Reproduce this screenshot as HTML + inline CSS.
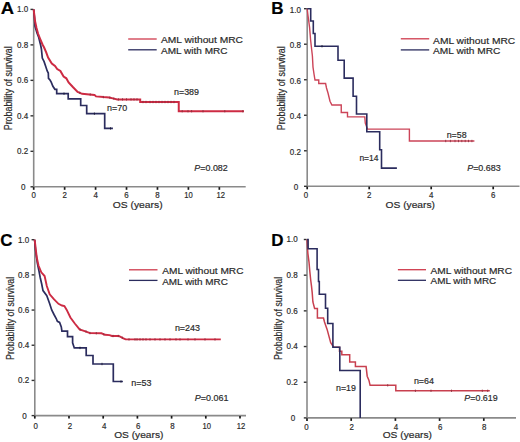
<!DOCTYPE html><html><head><meta charset="utf-8"><style>html,body{margin:0;padding:0;background:#fff;}svg{display:block;font-family:"Liberation Sans", sans-serif;}</style></head><body>
<svg width="520" height="442" viewBox="0 0 520 442">
<rect width="520" height="442" fill="#fff"/>
<path d="M33.70,9.40V186.80H245.70" fill="none" stroke="#8a8a8a" stroke-width="1.6"/>
<path d="M30.50,186.80H33.30" stroke="#333333" stroke-width="1.4"/>
<text x="21.05" y="189.70" font-size="8.6" font-weight="normal" text-anchor="start" fill="#2a2a2a" stroke="#2a2a2a" stroke-width="0.18" textLength="4.50" lengthAdjust="spacingAndGlyphs">0</text>
<path d="M30.50,151.32H33.30" stroke="#333333" stroke-width="1.4"/>
<text x="17.00" y="154.22" font-size="8.6" font-weight="normal" text-anchor="start" fill="#2a2a2a" stroke="#2a2a2a" stroke-width="0.18" textLength="11.20" lengthAdjust="spacingAndGlyphs">0.2</text>
<path d="M30.50,115.84H33.30" stroke="#333333" stroke-width="1.4"/>
<text x="17.00" y="118.74" font-size="8.6" font-weight="normal" text-anchor="start" fill="#2a2a2a" stroke="#2a2a2a" stroke-width="0.18" textLength="11.20" lengthAdjust="spacingAndGlyphs">0.4</text>
<path d="M30.50,80.36H33.30" stroke="#333333" stroke-width="1.4"/>
<text x="17.00" y="83.26" font-size="8.6" font-weight="normal" text-anchor="start" fill="#2a2a2a" stroke="#2a2a2a" stroke-width="0.18" textLength="11.20" lengthAdjust="spacingAndGlyphs">0.6</text>
<path d="M30.50,44.88H33.30" stroke="#333333" stroke-width="1.4"/>
<text x="17.00" y="47.78" font-size="8.6" font-weight="normal" text-anchor="start" fill="#2a2a2a" stroke="#2a2a2a" stroke-width="0.18" textLength="11.20" lengthAdjust="spacingAndGlyphs">0.8</text>
<path d="M30.50,9.40H33.30" stroke="#333333" stroke-width="1.4"/>
<text x="17.00" y="12.30" font-size="8.6" font-weight="normal" text-anchor="start" fill="#2a2a2a" stroke="#2a2a2a" stroke-width="0.18" textLength="11.20" lengthAdjust="spacingAndGlyphs">1.0</text>
<path d="M33.70,187.10V189.80" stroke="#1a1a1a" stroke-width="1.7"/>
<text x="31.50" y="197.50" font-size="8.6" font-weight="normal" text-anchor="start" fill="#2a2a2a" stroke="#2a2a2a" stroke-width="0.18" textLength="4.40" lengthAdjust="spacingAndGlyphs">0</text>
<path d="M64.64,187.10V189.80" stroke="#1a1a1a" stroke-width="1.7"/>
<text x="62.44" y="197.50" font-size="8.6" font-weight="normal" text-anchor="start" fill="#2a2a2a" stroke="#2a2a2a" stroke-width="0.18" textLength="4.40" lengthAdjust="spacingAndGlyphs">2</text>
<path d="M95.58,187.10V189.80" stroke="#1a1a1a" stroke-width="1.7"/>
<text x="93.38" y="197.50" font-size="8.6" font-weight="normal" text-anchor="start" fill="#2a2a2a" stroke="#2a2a2a" stroke-width="0.18" textLength="4.40" lengthAdjust="spacingAndGlyphs">4</text>
<path d="M126.52,187.10V189.80" stroke="#1a1a1a" stroke-width="1.7"/>
<text x="124.32" y="197.50" font-size="8.6" font-weight="normal" text-anchor="start" fill="#2a2a2a" stroke="#2a2a2a" stroke-width="0.18" textLength="4.40" lengthAdjust="spacingAndGlyphs">6</text>
<path d="M157.46,187.10V189.80" stroke="#1a1a1a" stroke-width="1.7"/>
<text x="155.26" y="197.50" font-size="8.6" font-weight="normal" text-anchor="start" fill="#2a2a2a" stroke="#2a2a2a" stroke-width="0.18" textLength="4.40" lengthAdjust="spacingAndGlyphs">8</text>
<path d="M188.40,187.10V189.80" stroke="#1a1a1a" stroke-width="1.7"/>
<text x="184.15" y="197.50" font-size="8.6" font-weight="normal" text-anchor="start" fill="#2a2a2a" stroke="#2a2a2a" stroke-width="0.18" textLength="8.50" lengthAdjust="spacingAndGlyphs">10</text>
<path d="M219.34,187.10V189.80" stroke="#1a1a1a" stroke-width="1.7"/>
<text x="216.49" y="197.50" font-size="8.6" font-weight="normal" text-anchor="start" fill="#2a2a2a" stroke="#2a2a2a" stroke-width="0.18" textLength="8.50" lengthAdjust="spacingAndGlyphs">12</text>
<text x="0.80" y="13.70" font-size="17" font-weight="bold" text-anchor="start" fill="#000" stroke="#000" stroke-width="0.18" textLength="13.30" lengthAdjust="spacingAndGlyphs">A</text>
<text transform="translate(12.20,130.30) rotate(-90)" font-size="10.3" fill="#2a2a2a" stroke="#2a2a2a" stroke-width="0.18" textLength="84.00" lengthAdjust="spacingAndGlyphs">Probability of survival</text>
<text x="112.80" y="207.80" font-size="9.2" font-weight="normal" text-anchor="start" fill="#2a2a2a" stroke="#2a2a2a" stroke-width="0.18" textLength="49.80" lengthAdjust="spacingAndGlyphs">OS (years)</text>
<path d="M128.20,39.00H156.70" stroke="#cf3a4c" stroke-width="1.3"/>
<path d="M128.20,49.80H156.70" stroke="#2b2c5e" stroke-width="1.3"/>
<text x="161.00" y="43.20" font-size="9.0" font-weight="normal" text-anchor="start" fill="#2a2a2a" stroke="#2a2a2a" stroke-width="0.18" textLength="82.00" lengthAdjust="spacingAndGlyphs">AML without MRC</text>
<text x="161.00" y="53.80" font-size="9.0" font-weight="normal" text-anchor="start" fill="#2a2a2a" stroke="#2a2a2a" stroke-width="0.18" textLength="66.50" lengthAdjust="spacingAndGlyphs">AML with MRC</text>
<path d="M307.20,8.70V186.30H519.50" fill="none" stroke="#8a8a8a" stroke-width="1.6"/>
<path d="M304.00,186.30H306.80" stroke="#333333" stroke-width="1.4"/>
<text x="293.75" y="190.10" font-size="8.6" font-weight="normal" text-anchor="start" fill="#2a2a2a" stroke="#2a2a2a" stroke-width="0.18" textLength="4.50" lengthAdjust="spacingAndGlyphs">0</text>
<path d="M304.00,150.78H306.80" stroke="#333333" stroke-width="1.4"/>
<text x="289.70" y="154.58" font-size="8.6" font-weight="normal" text-anchor="start" fill="#2a2a2a" stroke="#2a2a2a" stroke-width="0.18" textLength="11.20" lengthAdjust="spacingAndGlyphs">0.2</text>
<path d="M304.00,115.26H306.80" stroke="#333333" stroke-width="1.4"/>
<text x="289.70" y="119.06" font-size="8.6" font-weight="normal" text-anchor="start" fill="#2a2a2a" stroke="#2a2a2a" stroke-width="0.18" textLength="11.20" lengthAdjust="spacingAndGlyphs">0.4</text>
<path d="M304.00,79.74H306.80" stroke="#333333" stroke-width="1.4"/>
<text x="289.70" y="83.54" font-size="8.6" font-weight="normal" text-anchor="start" fill="#2a2a2a" stroke="#2a2a2a" stroke-width="0.18" textLength="11.20" lengthAdjust="spacingAndGlyphs">0.6</text>
<path d="M304.00,44.22H306.80" stroke="#333333" stroke-width="1.4"/>
<text x="289.70" y="48.02" font-size="8.6" font-weight="normal" text-anchor="start" fill="#2a2a2a" stroke="#2a2a2a" stroke-width="0.18" textLength="11.20" lengthAdjust="spacingAndGlyphs">0.8</text>
<path d="M304.00,8.70H306.80" stroke="#333333" stroke-width="1.4"/>
<text x="289.70" y="12.50" font-size="8.6" font-weight="normal" text-anchor="start" fill="#2a2a2a" stroke="#2a2a2a" stroke-width="0.18" textLength="11.20" lengthAdjust="spacingAndGlyphs">1.0</text>
<path d="M307.20,186.60V189.30" stroke="#1a1a1a" stroke-width="1.7"/>
<text x="303.80" y="197.50" font-size="8.6" font-weight="normal" text-anchor="start" fill="#2a2a2a" stroke="#2a2a2a" stroke-width="0.18" textLength="4.40" lengthAdjust="spacingAndGlyphs">0</text>
<path d="M369.20,186.60V189.30" stroke="#1a1a1a" stroke-width="1.7"/>
<text x="367.00" y="197.50" font-size="8.6" font-weight="normal" text-anchor="start" fill="#2a2a2a" stroke="#2a2a2a" stroke-width="0.18" textLength="4.40" lengthAdjust="spacingAndGlyphs">2</text>
<path d="M431.20,186.60V189.30" stroke="#1a1a1a" stroke-width="1.7"/>
<text x="429.00" y="197.50" font-size="8.6" font-weight="normal" text-anchor="start" fill="#2a2a2a" stroke="#2a2a2a" stroke-width="0.18" textLength="4.40" lengthAdjust="spacingAndGlyphs">4</text>
<path d="M493.20,186.60V189.30" stroke="#1a1a1a" stroke-width="1.7"/>
<text x="491.00" y="197.50" font-size="8.6" font-weight="normal" text-anchor="start" fill="#2a2a2a" stroke="#2a2a2a" stroke-width="0.18" textLength="4.40" lengthAdjust="spacingAndGlyphs">6</text>
<text x="271.20" y="13.70" font-size="17" font-weight="bold" text-anchor="start" fill="#000" stroke="#000" stroke-width="0.18">B</text>
<text transform="translate(284.50,130.30) rotate(-90)" font-size="10.3" fill="#2a2a2a" stroke="#2a2a2a" stroke-width="0.18" textLength="84.00" lengthAdjust="spacingAndGlyphs">Probability of survival</text>
<text x="385.50" y="208.00" font-size="9.2" font-weight="normal" text-anchor="start" fill="#2a2a2a" stroke="#2a2a2a" stroke-width="0.18" textLength="49.50" lengthAdjust="spacingAndGlyphs">OS (years)</text>
<path d="M400.80,38.80H429.20" stroke="#cf3a4c" stroke-width="1.3"/>
<path d="M400.80,49.90H429.20" stroke="#2b2c5e" stroke-width="1.3"/>
<text x="433.10" y="43.60" font-size="9.0" font-weight="normal" text-anchor="start" fill="#2a2a2a" stroke="#2a2a2a" stroke-width="0.18" textLength="82.10" lengthAdjust="spacingAndGlyphs">AML without MRC</text>
<text x="433.10" y="53.80" font-size="9.0" font-weight="normal" text-anchor="start" fill="#2a2a2a" stroke="#2a2a2a" stroke-width="0.18" textLength="67.30" lengthAdjust="spacingAndGlyphs">AML with MRC</text>
<path d="M34.80,239.70V415.60H246.00" fill="none" stroke="#8a8a8a" stroke-width="1.6"/>
<path d="M31.60,415.60H34.40" stroke="#333333" stroke-width="1.4"/>
<text x="22.15" y="418.50" font-size="8.6" font-weight="normal" text-anchor="start" fill="#2a2a2a" stroke="#2a2a2a" stroke-width="0.18" textLength="4.50" lengthAdjust="spacingAndGlyphs">0</text>
<path d="M31.60,380.42H34.40" stroke="#333333" stroke-width="1.4"/>
<text x="18.10" y="383.32" font-size="8.6" font-weight="normal" text-anchor="start" fill="#2a2a2a" stroke="#2a2a2a" stroke-width="0.18" textLength="11.20" lengthAdjust="spacingAndGlyphs">0.2</text>
<path d="M31.60,345.24H34.40" stroke="#333333" stroke-width="1.4"/>
<text x="18.10" y="348.14" font-size="8.6" font-weight="normal" text-anchor="start" fill="#2a2a2a" stroke="#2a2a2a" stroke-width="0.18" textLength="11.20" lengthAdjust="spacingAndGlyphs">0.4</text>
<path d="M31.60,310.06H34.40" stroke="#333333" stroke-width="1.4"/>
<text x="18.10" y="312.96" font-size="8.6" font-weight="normal" text-anchor="start" fill="#2a2a2a" stroke="#2a2a2a" stroke-width="0.18" textLength="11.20" lengthAdjust="spacingAndGlyphs">0.6</text>
<path d="M31.60,274.88H34.40" stroke="#333333" stroke-width="1.4"/>
<text x="18.10" y="277.78" font-size="8.6" font-weight="normal" text-anchor="start" fill="#2a2a2a" stroke="#2a2a2a" stroke-width="0.18" textLength="11.20" lengthAdjust="spacingAndGlyphs">0.8</text>
<path d="M31.60,239.70H34.40" stroke="#333333" stroke-width="1.4"/>
<text x="18.10" y="242.60" font-size="8.6" font-weight="normal" text-anchor="start" fill="#2a2a2a" stroke="#2a2a2a" stroke-width="0.18" textLength="11.20" lengthAdjust="spacingAndGlyphs">1.0</text>
<path d="M34.80,415.90V418.60" stroke="#1a1a1a" stroke-width="1.7"/>
<text x="33.50" y="428.50" font-size="8.6" font-weight="normal" text-anchor="start" fill="#2a2a2a" stroke="#2a2a2a" stroke-width="0.18" textLength="4.40" lengthAdjust="spacingAndGlyphs">0</text>
<path d="M69.00,415.90V418.60" stroke="#1a1a1a" stroke-width="1.7"/>
<text x="67.70" y="428.50" font-size="8.6" font-weight="normal" text-anchor="start" fill="#2a2a2a" stroke="#2a2a2a" stroke-width="0.18" textLength="4.40" lengthAdjust="spacingAndGlyphs">2</text>
<path d="M103.20,415.90V418.60" stroke="#1a1a1a" stroke-width="1.7"/>
<text x="101.90" y="428.50" font-size="8.6" font-weight="normal" text-anchor="start" fill="#2a2a2a" stroke="#2a2a2a" stroke-width="0.18" textLength="4.40" lengthAdjust="spacingAndGlyphs">4</text>
<path d="M137.40,415.90V418.60" stroke="#1a1a1a" stroke-width="1.7"/>
<text x="136.10" y="428.50" font-size="8.6" font-weight="normal" text-anchor="start" fill="#2a2a2a" stroke="#2a2a2a" stroke-width="0.18" textLength="4.40" lengthAdjust="spacingAndGlyphs">6</text>
<path d="M171.60,415.90V418.60" stroke="#1a1a1a" stroke-width="1.7"/>
<text x="170.30" y="428.50" font-size="8.6" font-weight="normal" text-anchor="start" fill="#2a2a2a" stroke="#2a2a2a" stroke-width="0.18" textLength="4.40" lengthAdjust="spacingAndGlyphs">8</text>
<path d="M205.80,415.90V418.60" stroke="#1a1a1a" stroke-width="1.7"/>
<text x="202.45" y="428.50" font-size="8.6" font-weight="normal" text-anchor="start" fill="#2a2a2a" stroke="#2a2a2a" stroke-width="0.18" textLength="8.50" lengthAdjust="spacingAndGlyphs">10</text>
<path d="M240.00,415.90V418.60" stroke="#1a1a1a" stroke-width="1.7"/>
<text x="236.65" y="428.50" font-size="8.6" font-weight="normal" text-anchor="start" fill="#2a2a2a" stroke="#2a2a2a" stroke-width="0.18" textLength="8.50" lengthAdjust="spacingAndGlyphs">12</text>
<text x="0.20" y="246.10" font-size="17" font-weight="bold" text-anchor="start" fill="#000" stroke="#000" stroke-width="0.18">C</text>
<text transform="translate(13.60,359.90) rotate(-90)" font-size="10.3" fill="#2a2a2a" stroke="#2a2a2a" stroke-width="0.18" textLength="83.10" lengthAdjust="spacingAndGlyphs">Probability of survival</text>
<text x="114.20" y="437.70" font-size="9.2" font-weight="normal" text-anchor="start" fill="#2a2a2a" stroke="#2a2a2a" stroke-width="0.18" textLength="49.20" lengthAdjust="spacingAndGlyphs">OS (years)</text>
<path d="M129.00,269.80H157.50" stroke="#cf3a4c" stroke-width="1.3"/>
<path d="M129.00,280.40H157.50" stroke="#2b2c5e" stroke-width="1.3"/>
<text x="162.20" y="274.10" font-size="9.0" font-weight="normal" text-anchor="start" fill="#2a2a2a" stroke="#2a2a2a" stroke-width="0.18" textLength="81.30" lengthAdjust="spacingAndGlyphs">AML without MRC</text>
<text x="162.20" y="284.80" font-size="9.0" font-weight="normal" text-anchor="start" fill="#2a2a2a" stroke="#2a2a2a" stroke-width="0.18" textLength="65.70" lengthAdjust="spacingAndGlyphs">AML with MRC</text>
<path d="M307.00,239.50V417.90H516.00" fill="none" stroke="#8a8a8a" stroke-width="1.6"/>
<path d="M303.80,417.90H306.60" stroke="#333333" stroke-width="1.4"/>
<text x="290.65" y="420.80" font-size="8.6" font-weight="normal" text-anchor="start" fill="#2a2a2a" stroke="#2a2a2a" stroke-width="0.18" textLength="4.50" lengthAdjust="spacingAndGlyphs">0</text>
<path d="M303.80,382.22H306.60" stroke="#333333" stroke-width="1.4"/>
<text x="286.60" y="385.12" font-size="8.6" font-weight="normal" text-anchor="start" fill="#2a2a2a" stroke="#2a2a2a" stroke-width="0.18" textLength="11.20" lengthAdjust="spacingAndGlyphs">0.2</text>
<path d="M303.80,346.54H306.60" stroke="#333333" stroke-width="1.4"/>
<text x="286.60" y="349.44" font-size="8.6" font-weight="normal" text-anchor="start" fill="#2a2a2a" stroke="#2a2a2a" stroke-width="0.18" textLength="11.20" lengthAdjust="spacingAndGlyphs">0.4</text>
<path d="M303.80,310.86H306.60" stroke="#333333" stroke-width="1.4"/>
<text x="286.60" y="313.76" font-size="8.6" font-weight="normal" text-anchor="start" fill="#2a2a2a" stroke="#2a2a2a" stroke-width="0.18" textLength="11.20" lengthAdjust="spacingAndGlyphs">0.6</text>
<path d="M303.80,275.18H306.60" stroke="#333333" stroke-width="1.4"/>
<text x="286.60" y="278.08" font-size="8.6" font-weight="normal" text-anchor="start" fill="#2a2a2a" stroke="#2a2a2a" stroke-width="0.18" textLength="11.20" lengthAdjust="spacingAndGlyphs">0.8</text>
<path d="M303.80,239.50H306.60" stroke="#333333" stroke-width="1.4"/>
<text x="286.60" y="242.40" font-size="8.6" font-weight="normal" text-anchor="start" fill="#2a2a2a" stroke="#2a2a2a" stroke-width="0.18" textLength="11.20" lengthAdjust="spacingAndGlyphs">1.0</text>
<path d="M307.00,418.20V420.90" stroke="#1a1a1a" stroke-width="1.7"/>
<text x="304.30" y="430.10" font-size="8.6" font-weight="normal" text-anchor="start" fill="#2a2a2a" stroke="#2a2a2a" stroke-width="0.18" textLength="4.40" lengthAdjust="spacingAndGlyphs">0</text>
<path d="M351.20,418.20V420.90" stroke="#1a1a1a" stroke-width="1.7"/>
<text x="349.50" y="430.10" font-size="8.6" font-weight="normal" text-anchor="start" fill="#2a2a2a" stroke="#2a2a2a" stroke-width="0.18" textLength="4.40" lengthAdjust="spacingAndGlyphs">2</text>
<path d="M395.40,418.20V420.90" stroke="#1a1a1a" stroke-width="1.7"/>
<text x="393.70" y="430.10" font-size="8.6" font-weight="normal" text-anchor="start" fill="#2a2a2a" stroke="#2a2a2a" stroke-width="0.18" textLength="4.40" lengthAdjust="spacingAndGlyphs">4</text>
<path d="M439.60,418.20V420.90" stroke="#1a1a1a" stroke-width="1.7"/>
<text x="437.90" y="430.10" font-size="8.6" font-weight="normal" text-anchor="start" fill="#2a2a2a" stroke="#2a2a2a" stroke-width="0.18" textLength="4.40" lengthAdjust="spacingAndGlyphs">6</text>
<path d="M483.80,418.20V420.90" stroke="#1a1a1a" stroke-width="1.7"/>
<text x="482.10" y="430.10" font-size="8.6" font-weight="normal" text-anchor="start" fill="#2a2a2a" stroke="#2a2a2a" stroke-width="0.18" textLength="4.40" lengthAdjust="spacingAndGlyphs">8</text>
<text x="271.30" y="246.00" font-size="17" font-weight="bold" text-anchor="start" fill="#000" stroke="#000" stroke-width="0.18">D</text>
<text transform="translate(281.80,359.90) rotate(-90)" font-size="10.3" fill="#2a2a2a" stroke="#2a2a2a" stroke-width="0.18" textLength="83.10" lengthAdjust="spacingAndGlyphs">Probability of survival</text>
<text x="382.70" y="438.00" font-size="9.2" font-weight="normal" text-anchor="start" fill="#2a2a2a" stroke="#2a2a2a" stroke-width="0.18" textLength="49.30" lengthAdjust="spacingAndGlyphs">OS (years)</text>
<path d="M397.90,269.70H426.00" stroke="#cf3a4c" stroke-width="1.3"/>
<path d="M397.90,280.30H426.00" stroke="#2b2c5e" stroke-width="1.3"/>
<text x="430.60" y="274.30" font-size="9.0" font-weight="normal" text-anchor="start" fill="#2a2a2a" stroke="#2a2a2a" stroke-width="0.18" textLength="81.40" lengthAdjust="spacingAndGlyphs">AML without MRC</text>
<text x="430.60" y="284.30" font-size="9.0" font-weight="normal" text-anchor="start" fill="#2a2a2a" stroke="#2a2a2a" stroke-width="0.18" textLength="65.70" lengthAdjust="spacingAndGlyphs">AML with MRC</text>
<text x="174.00" y="95.40" font-size="8.3" font-weight="normal" text-anchor="start" fill="#2a2a2a" stroke="#2a2a2a" stroke-width="0.18" textLength="25.00" lengthAdjust="spacingAndGlyphs">n=389</text>
<text x="107.10" y="110.80" font-size="8.3" font-weight="normal" text-anchor="start" fill="#2a2a2a" stroke="#2a2a2a" stroke-width="0.18" textLength="20.10" lengthAdjust="spacingAndGlyphs">n=70</text>
<text x="446.70" y="138.30" font-size="8.3" font-weight="normal" text-anchor="start" fill="#2a2a2a" stroke="#2a2a2a" stroke-width="0.18" textLength="19.90" lengthAdjust="spacingAndGlyphs">n=58</text>
<text x="359.40" y="160.70" font-size="8.3" font-weight="normal" text-anchor="start" fill="#2a2a2a" stroke="#2a2a2a" stroke-width="0.18" textLength="19.10" lengthAdjust="spacingAndGlyphs">n=14</text>
<text x="174.90" y="330.90" font-size="8.3" font-weight="normal" text-anchor="start" fill="#2a2a2a" stroke="#2a2a2a" stroke-width="0.18" textLength="25.10" lengthAdjust="spacingAndGlyphs">n=243</text>
<text x="131.30" y="386.10" font-size="8.3" font-weight="normal" text-anchor="start" fill="#2a2a2a" stroke="#2a2a2a" stroke-width="0.18" textLength="20.20" lengthAdjust="spacingAndGlyphs">n=53</text>
<text x="336.00" y="390.90" font-size="8.3" font-weight="normal" text-anchor="start" fill="#2a2a2a" stroke="#2a2a2a" stroke-width="0.18" textLength="19.90" lengthAdjust="spacingAndGlyphs">n=19</text>
<text x="413.90" y="384.20" font-size="8.3" font-weight="normal" text-anchor="start" fill="#2a2a2a" stroke="#2a2a2a" stroke-width="0.18" textLength="20.10" lengthAdjust="spacingAndGlyphs">n=64</text>
<text x="194.30" y="170.80" font-size="8.6" fill="#2a2a2a" stroke="#2a2a2a" stroke-width="0.18" textLength="33.50" lengthAdjust="spacingAndGlyphs"><tspan font-style="italic">P</tspan>=0.082</text>
<text x="467.20" y="171.00" font-size="8.6" fill="#2a2a2a" stroke="#2a2a2a" stroke-width="0.18" textLength="33.50" lengthAdjust="spacingAndGlyphs"><tspan font-style="italic">P</tspan>=0.683</text>
<text x="194.80" y="401.20" font-size="8.6" fill="#2a2a2a" stroke="#2a2a2a" stroke-width="0.18" textLength="33.70" lengthAdjust="spacingAndGlyphs"><tspan font-style="italic">P</tspan>=0.061</text>
<text x="464.30" y="401.20" font-size="8.6" fill="#2a2a2a" stroke="#2a2a2a" stroke-width="0.18" textLength="33.40" lengthAdjust="spacingAndGlyphs"><tspan font-style="italic">P</tspan>=0.619</text>
<polyline points="33.70,9.40 34.50,18.00 35.00,26.25 37.00,33.00 38.75,37.50 40.60,45.00 41.40,49.00 42.30,58.10 44.10,61.70 45.90,67.10 47.20,71.00 48.30,73.00 48.50,78.30 50.00,80.00 51.20,82.20 52.90,86.30 54.90,89.30 56.70,89.30 56.70,93.70 68.20,93.70 68.20,98.90 80.70,98.90 80.70,105.50 86.70,105.50 86.70,113.70 104.70,113.70 104.70,128.40 112.90,128.40" fill="none" stroke="#2b2c5e" stroke-width="1.7" stroke-linejoin="miter"/>
<rect x="63.50" y="92.50" width="1" height="2.4" fill="#151530" opacity="0.8"/>
<rect x="93.90" y="112.50" width="1" height="2.4" fill="#151530" opacity="0.8"/>
<rect x="110.00" y="127.20" width="1" height="2.4" fill="#151530" opacity="0.8"/>
<polyline points="33.70,9.40 34.20,14.00 35.00,21.00 36.50,28.00 38.10,33.75 40.00,38.50 42.50,44.50 44.10,47.50 46.30,52.70 48.10,57.60 51.80,63.50 55.00,66.00 57.20,69.00 60.40,71.00 63.60,76.50 66.30,78.30 68.60,82.40 73.10,87.30 77.60,91.90 82.10,93.80 89.40,94.40 94.50,94.90 96.00,96.40 103.40,97.10 109.20,97.50 113.80,98.60 117.30,99.40 140.20,99.40 140.20,102.00 178.75,102.00 178.75,111.20 244.00,111.20" fill="none" stroke="#cd2b43" stroke-width="2.0" stroke-linejoin="miter"/>
<rect x="79.30" y="91.63" width="1" height="2.4" fill="#8a2e3c" opacity="0.8"/>
<rect x="89.70" y="93.28" width="1" height="2.4" fill="#8a2e3c" opacity="0.8"/>
<rect x="102.90" y="95.90" width="1" height="2.4" fill="#8a2e3c" opacity="0.8"/>
<rect x="109.30" y="96.44" width="1" height="2.4" fill="#8a2e3c" opacity="0.8"/>
<rect x="113.30" y="97.40" width="1" height="2.4" fill="#8a2e3c" opacity="0.8"/>
<rect x="117.90" y="98.20" width="1" height="2.4" fill="#8a2e3c" opacity="0.8"/>
<rect x="122.00" y="98.20" width="1" height="2.4" fill="#8a2e3c" opacity="0.8"/>
<rect x="126.00" y="98.20" width="1" height="2.4" fill="#8a2e3c" opacity="0.8"/>
<rect x="130.50" y="98.20" width="1" height="2.4" fill="#8a2e3c" opacity="0.8"/>
<rect x="133.50" y="98.20" width="1" height="2.4" fill="#8a2e3c" opacity="0.8"/>
<rect x="136.50" y="98.20" width="1" height="2.4" fill="#8a2e3c" opacity="0.8"/>
<rect x="142.50" y="100.80" width="1" height="2.4" fill="#8a2e3c" opacity="0.8"/>
<rect x="145.50" y="100.80" width="1" height="2.4" fill="#8a2e3c" opacity="0.8"/>
<rect x="149.50" y="100.80" width="1" height="2.4" fill="#8a2e3c" opacity="0.8"/>
<rect x="152.50" y="100.80" width="1" height="2.4" fill="#8a2e3c" opacity="0.8"/>
<rect x="155.50" y="100.80" width="1" height="2.4" fill="#8a2e3c" opacity="0.8"/>
<rect x="158.50" y="100.80" width="1" height="2.4" fill="#8a2e3c" opacity="0.8"/>
<rect x="161.50" y="100.80" width="1" height="2.4" fill="#8a2e3c" opacity="0.8"/>
<rect x="164.50" y="100.80" width="1" height="2.4" fill="#8a2e3c" opacity="0.8"/>
<rect x="167.50" y="100.80" width="1" height="2.4" fill="#8a2e3c" opacity="0.8"/>
<rect x="170.50" y="100.80" width="1" height="2.4" fill="#8a2e3c" opacity="0.8"/>
<rect x="173.50" y="100.80" width="1" height="2.4" fill="#8a2e3c" opacity="0.8"/>
<rect x="181.70" y="110.00" width="1" height="2.4" fill="#8a2e3c" opacity="0.8"/>
<rect x="187.50" y="110.00" width="1" height="2.4" fill="#8a2e3c" opacity="0.8"/>
<rect x="191.10" y="110.00" width="1" height="2.4" fill="#8a2e3c" opacity="0.8"/>
<rect x="202.50" y="110.00" width="1" height="2.4" fill="#8a2e3c" opacity="0.8"/>
<rect x="224.30" y="110.00" width="1" height="2.4" fill="#8a2e3c" opacity="0.8"/>
<rect x="242.30" y="110.00" width="1" height="2.4" fill="#8a2e3c" opacity="0.8"/>
<polyline points="307.20,8.70 307.80,14.00 308.60,20.00 309.60,27.60 310.20,35.00 310.60,40.00 311.60,49.00 312.40,56.00 313.00,67.10 314.00,74.00 315.00,80.00 318.75,80.00 318.75,83.50 325.60,83.50 326.50,88.00 328.00,93.00 330.00,101.25 331.90,105.00 341.25,105.00 341.25,112.50 347.50,112.50 347.50,116.90 364.80,116.90 365.30,123.20 367.50,129.10 409.40,129.10 409.40,141.00 474.40,141.00" fill="none" stroke="#cc4458" stroke-width="1.4" stroke-linejoin="miter"/>
<rect x="445.20" y="139.80" width="1" height="2.4" fill="#8a2e3c" opacity="0.8"/>
<rect x="449.90" y="139.80" width="1" height="2.4" fill="#8a2e3c" opacity="0.8"/>
<rect x="454.50" y="139.80" width="1" height="2.4" fill="#8a2e3c" opacity="0.8"/>
<rect x="458.00" y="139.80" width="1" height="2.4" fill="#8a2e3c" opacity="0.8"/>
<rect x="461.30" y="139.80" width="1" height="2.4" fill="#8a2e3c" opacity="0.8"/>
<rect x="464.70" y="139.80" width="1" height="2.4" fill="#8a2e3c" opacity="0.8"/>
<rect x="468.00" y="139.80" width="1" height="2.4" fill="#8a2e3c" opacity="0.8"/>
<rect x="471.40" y="139.80" width="1" height="2.4" fill="#8a2e3c" opacity="0.8"/>
<polyline points="307.20,8.70 310.70,8.70 310.70,21.00 313.30,21.00 313.30,33.50 315.00,33.50 315.00,46.20 338.00,46.20 338.00,60.20 344.20,60.20 344.20,78.10 353.10,78.10 353.10,96.20 356.50,96.20 356.50,114.00 366.80,114.00 366.80,131.80 379.70,131.80 379.70,149.70 381.50,149.70 381.50,168.10 396.90,168.10" fill="none" stroke="#2b2c5e" stroke-width="1.6" stroke-linejoin="miter"/>
<rect x="321.50" y="45.00" width="1" height="2.4" fill="#151530" opacity="0.8"/>
<polyline points="34.60,239.70 35.50,250.00 36.50,257.00 37.40,263.30 39.00,271.20 40.20,277.50 41.70,284.00 43.00,290.60 46.80,295.70 49.70,303.80 51.70,310.00 54.00,314.50 56.20,318.50 57.40,321.30 59.60,322.40 61.30,327.00 61.90,331.20 67.50,331.20 67.50,336.60 72.60,336.60 72.60,342.80 74.30,347.90 86.20,347.90 86.20,355.50 93.00,355.50 93.00,364.00 113.30,364.00 113.30,381.50 122.90,381.50" fill="none" stroke="#2b2c5e" stroke-width="1.7" stroke-linejoin="miter"/>
<rect x="79.50" y="346.70" width="1" height="2.4" fill="#151530" opacity="0.8"/>
<rect x="101.50" y="362.80" width="1" height="2.4" fill="#151530" opacity="0.8"/>
<rect x="120.50" y="380.30" width="1" height="2.4" fill="#151530" opacity="0.8"/>
<polyline points="34.60,239.70 35.20,244.00 35.70,248.60 36.80,257.60 38.50,265.50 41.30,272.30 44.60,276.00 46.80,286.00 49.70,294.30 54.10,299.40 58.50,303.80 62.00,305.50 64.40,306.00 66.60,309.70 70.40,317.50 74.80,323.50 79.60,329.40 85.40,331.30 90.00,333.10 101.50,333.30 105.00,334.80 109.60,335.10 111.90,336.00 118.80,336.00 123.40,338.30 125.70,339.40 220.80,339.40" fill="none" stroke="#cd2b43" stroke-width="1.9" stroke-linejoin="miter"/>
<rect x="79.70" y="328.40" width="1" height="2.4" fill="#8a2e3c" opacity="0.8"/>
<rect x="85.50" y="330.33" width="1" height="2.4" fill="#8a2e3c" opacity="0.8"/>
<rect x="89.50" y="331.90" width="1" height="2.4" fill="#8a2e3c" opacity="0.8"/>
<rect x="95.80" y="332.01" width="1" height="2.4" fill="#8a2e3c" opacity="0.8"/>
<rect x="103.30" y="333.09" width="1" height="2.4" fill="#8a2e3c" opacity="0.8"/>
<rect x="112.50" y="334.80" width="1" height="2.4" fill="#8a2e3c" opacity="0.8"/>
<rect x="117.80" y="334.80" width="1" height="2.4" fill="#8a2e3c" opacity="0.8"/>
<rect x="121.80" y="336.55" width="1" height="2.4" fill="#8a2e3c" opacity="0.8"/>
<rect x="128.50" y="338.20" width="1" height="2.4" fill="#8a2e3c" opacity="0.8"/>
<rect x="134.50" y="338.20" width="1" height="2.4" fill="#8a2e3c" opacity="0.8"/>
<rect x="136.50" y="338.20" width="1" height="2.4" fill="#8a2e3c" opacity="0.8"/>
<rect x="139.50" y="338.20" width="1" height="2.4" fill="#8a2e3c" opacity="0.8"/>
<rect x="142.50" y="338.20" width="1" height="2.4" fill="#8a2e3c" opacity="0.8"/>
<rect x="145.50" y="338.20" width="1" height="2.4" fill="#8a2e3c" opacity="0.8"/>
<rect x="149.50" y="338.20" width="1" height="2.4" fill="#8a2e3c" opacity="0.8"/>
<rect x="154.50" y="338.20" width="1" height="2.4" fill="#8a2e3c" opacity="0.8"/>
<rect x="159.50" y="338.20" width="1" height="2.4" fill="#8a2e3c" opacity="0.8"/>
<rect x="164.50" y="338.20" width="1" height="2.4" fill="#8a2e3c" opacity="0.8"/>
<rect x="169.50" y="338.20" width="1" height="2.4" fill="#8a2e3c" opacity="0.8"/>
<rect x="175.50" y="338.20" width="1" height="2.4" fill="#8a2e3c" opacity="0.8"/>
<rect x="179.50" y="338.20" width="1" height="2.4" fill="#8a2e3c" opacity="0.8"/>
<rect x="187.50" y="338.20" width="1" height="2.4" fill="#8a2e3c" opacity="0.8"/>
<rect x="194.50" y="338.20" width="1" height="2.4" fill="#8a2e3c" opacity="0.8"/>
<rect x="204.50" y="338.20" width="1" height="2.4" fill="#8a2e3c" opacity="0.8"/>
<rect x="214.50" y="338.20" width="1" height="2.4" fill="#8a2e3c" opacity="0.8"/>
<polyline points="307.00,239.50 307.50,248.00 307.90,253.60 309.00,262.00 309.80,271.20 310.70,280.00 311.50,286.10 312.20,292.60 312.90,302.00 314.60,308.50 317.40,308.50 317.40,318.00 323.50,318.00 324.50,322.00 327.10,329.40 330.70,342.60 333.70,347.20 339.50,347.20 339.50,351.30 341.80,351.30 341.80,354.70 349.70,354.70 349.70,362.10 355.40,362.10 355.40,366.60 366.10,366.60 367.20,376.20 368.90,380.20 370.10,385.30 395.80,385.30 395.80,390.80 489.80,390.80" fill="none" stroke="#c8404f" stroke-width="1.5" stroke-linejoin="miter"/>
<rect x="387.20" y="384.10" width="1" height="2.4" fill="#8a2e3c" opacity="0.8"/>
<rect x="414.90" y="389.60" width="1" height="2.4" fill="#8a2e3c" opacity="0.8"/>
<rect x="430.50" y="389.60" width="1" height="2.4" fill="#8a2e3c" opacity="0.8"/>
<rect x="451.00" y="389.60" width="1" height="2.4" fill="#8a2e3c" opacity="0.8"/>
<rect x="481.80" y="389.60" width="1" height="2.4" fill="#8a2e3c" opacity="0.8"/>
<rect x="487.20" y="389.60" width="1" height="2.4" fill="#8a2e3c" opacity="0.8"/>
<polyline points="307.00,239.50 308.10,239.50 308.10,248.80 317.10,248.80 317.10,269.50 318.50,269.50 318.50,281.50 319.30,281.50 319.30,294.30 325.50,294.30 325.50,308.30 327.70,308.30 327.70,323.50 332.90,323.50 332.90,347.30 339.80,347.30 339.80,370.50 360.20,370.50 360.20,417.90" fill="none" stroke="#2b2c5e" stroke-width="1.6" stroke-linejoin="miter"/>
</svg></body></html>
